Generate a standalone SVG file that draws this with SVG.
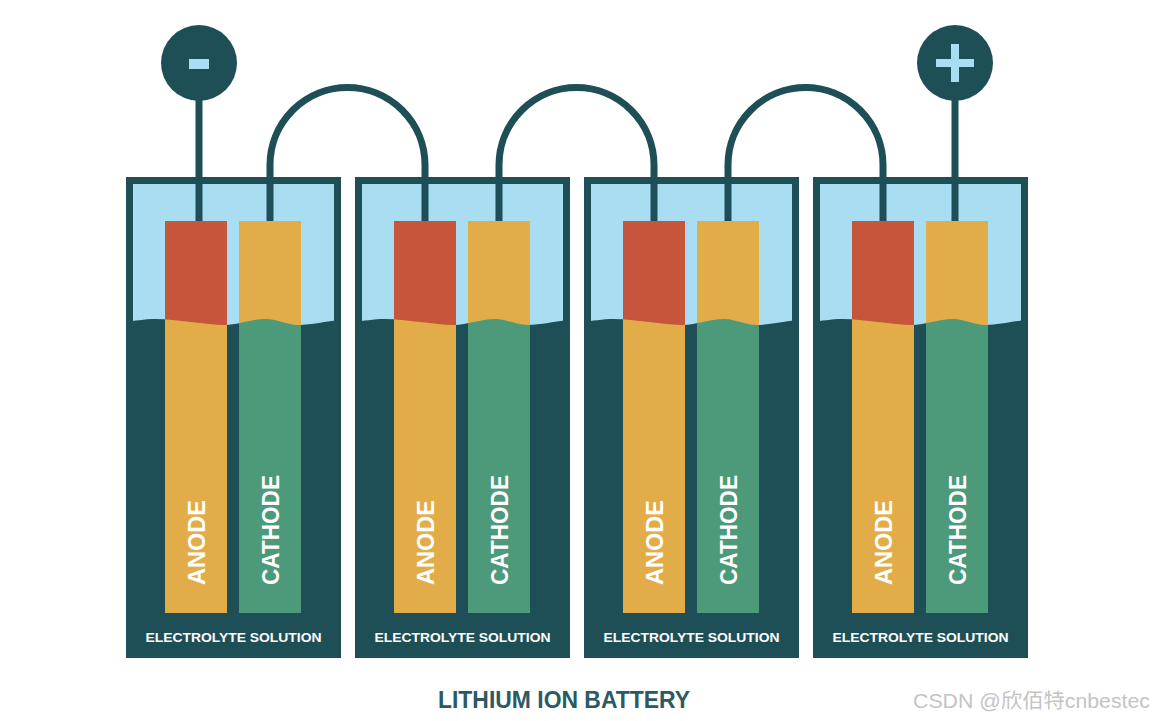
<svg xmlns="http://www.w3.org/2000/svg" width="1155" height="721" viewBox="0 0 1155 721">
  <style>
    .box { fill: #1f4f56; }
    .elec { fill: #a9def2; }
    .red { fill: #c6553c; }
    .yel { fill: #e2ad48; }
    .grn { fill: #4c9a79; }
    .wire { fill: none; stroke: #1f4f56; stroke-width: 7; }
    .lbl { font-family: "Liberation Sans", Arial, sans-serif; font-weight: bold; fill: #ffffff; font-size: 24px; }
    .sol { font-family: "Liberation Sans", Arial, sans-serif; font-weight: bold; fill: #ffffff; font-size: 13px; }
    .title { font-family: "Liberation Sans", Arial, sans-serif; font-weight: bold; fill: #2b5a62; font-size: 23px; }
    .wm { font-family: "Liberation Sans", "Noto Sans CJK SC", sans-serif; fill: #c4c4c4; font-size: 20px; }
    .term { fill: #1f4f56; }
    .sym { fill: #a9def2; }
  </style>
  <defs>
    <clipPath id="wave" clipPathUnits="userSpaceOnUse">
      <path d="M0,0 H215 V320 C200,321 185,325 173,325 C160,325 152,319 140,319 C125,319 112,325 99,325 C80,325 50,319 30,319 C18,319 8,321 0,322 Z"/>
    </clipPath>
    <g id="cell">
      <rect class="box" x="0" y="177" width="215" height="481"/>
      <rect class="elec" x="7" y="184" width="201" height="160" clip-path="url(#wave)"/>
      <rect class="yel" x="39" y="221" width="62" height="392"/>
      <rect class="grn" x="113" y="221" width="62" height="392"/>
      <rect class="red" x="39" y="221" width="62" height="120" clip-path="url(#wave)"/>
      <rect class="yel" x="113" y="221" width="62" height="120" clip-path="url(#wave)"/>
      <text class="lbl" transform="translate(78.5,585) rotate(-90)" textLength="85" lengthAdjust="spacingAndGlyphs">ANODE</text>
      <text class="lbl" transform="translate(152.5,585) rotate(-90)" textLength="110" lengthAdjust="spacingAndGlyphs">CATHODE</text>
      <text class="sol" x="107.5" y="642" text-anchor="middle" textLength="176" lengthAdjust="spacingAndGlyphs">ELECTROLYTE SOLUTION</text>
    </g>
  </defs>

  <g id="cell1"><use href="#cell" transform="translate(126,0)"/></g>
  <g id="cell2"><use href="#cell" transform="translate(355,0)"/></g>
  <g id="cell3"><use href="#cell" transform="translate(584,0)"/></g>
  <g id="cell4"><use href="#cell" transform="translate(813,0)"/></g>

  <g id="connectors">
    <path class="wire" d="M199,95 V221"/>
    <path class="wire" d="M955,95 V221"/>
    <path class="wire" d="M270,221 V165 A77.5,77.5 0 0 1 425,165 V221"/>
    <path class="wire" d="M499,221 V165 A77.5,77.5 0 0 1 654,165 V221"/>
    <path class="wire" d="M728,221 V165 A77.5,77.5 0 0 1 883,165 V221"/>
  </g>

  <g id="terminal-neg">
    <circle class="term" cx="199" cy="63" r="38"/>
    <rect class="sym" x="189" y="59" width="20" height="10"/>
  </g>
  <g id="terminal-pos">
    <circle class="term" cx="955" cy="63" r="38"/>
    <rect class="sym" x="936" y="59" width="38" height="8"/>
    <rect class="sym" x="951" y="44" width="8" height="38"/>
  </g>

  <text class="title" x="438" y="708" textLength="252" lengthAdjust="spacingAndGlyphs">LITHIUM ION BATTERY</text>
  <text class="wm" x="913" y="708" textLength="237" lengthAdjust="spacingAndGlyphs">CSDN @欣佰特cnbestec</text>
</svg>
